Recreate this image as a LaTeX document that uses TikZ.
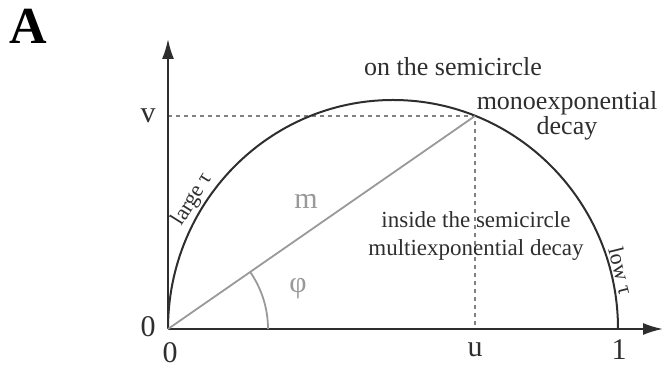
\documentclass[tikz,border=0pt]{standalone}
\usepackage{fontspec}
\setmainfont{Liberation Serif}
\usetikzlibrary{arrows.meta}
\definecolor{inkgray}{HTML}{2E2E2E}
\definecolor{vecgray}{HTML}{999999}
\definecolor{guidegray}{HTML}{808080}
\tikzset{
  axisline/.style={
    draw=inkgray,
    line width=1pt,
    -{Latex[length=10pt,width=6pt]}
  },
  curveline/.style={
    draw=inkgray,
    line width=1pt
  },
  vecline/.style={
    draw=vecgray,
    line width=0.9pt
  },
  guideline/.style={
    draw=guidegray,
    line width=0.7pt,
    dash pattern=on 2pt off 2pt
  },
  ticklabel/.style={
    text=inkgray,
    font=\fontsize{15}{18}\selectfont,
    inner sep=0pt
  },
  veclabel/.style={
    text=vecgray,
    font=\fontsize{15}{18}\selectfont,
    inner sep=0pt
  },
  arclabel/.style={
    text=inkgray,
    font=\fontsize{11}{13}\selectfont,
    inner sep=1pt,
    anchor=south
  },
  notelabel/.style={
    text=inkgray,
    align=center,
    inner sep=0pt
  }
}

\begin{document}
\begin{tikzpicture}[x=0.5pt,y=0.5pt]
    \useasboundingbox (0,0) rectangle (667,367);

    \coordinate (origin) at (168,38);
    \coordinate (centre) at (393,38);
    \coordinate (xend) at (663,38);
    \coordinate (yend) at (168,328);
    \coordinate (tip) at (475,251);
    \coordinate (vfoot) at (168,251);
    \coordinate (ufoot) at (475,38);

    % guides to the axes
    \draw[guideline] (vfoot) -- (tip) -- (ufoot);

    % axes
    \draw[axisline] (origin) -- (xend);
    \draw[axisline] (origin) -- (yend);

    % semicircle
    \draw[curveline] (origin) arc[start angle=180, end angle=0,
        x radius=225, y radius=229];

    % phasor and its angle
    \draw[vecline] (origin) -- (tip);
    \draw[vecline] ([shift={(0:100)}]origin) arc[start angle=0,
        end angle=34.8, radius=100];

    \node[arclabel, rotate=58] (large) at ([shift={(147.5:225 and 229)}]centre) {large τ};
    \node[arclabel, rotate=-76] (low) at ([shift={(14:225 and 229)}]centre) {low τ};

    \node[veclabel] (mlabel) at (306,166) {m};
    \node[veclabel] (philabel) at (298,78) {φ};

    \node[ticklabel] (vlabel) at (148,251) {v};
    \node[ticklabel] (zeroy) at (148,40) {0};
    \node[ticklabel] (zerox) at (170,14) {0};
    \node[ticklabel] (ulabel) at (475,17) {u};
    \node[ticklabel] (onelabel) at (619,17) {1};

    \node[notelabel, font=\fontsize{13}{13}\selectfont] (onsemi) at (453,300) {on the semicircle};
    \node[notelabel, font=\fontsize{13}{10.5}\selectfont] (mono) at (567,251) {monoexponential\\decay};
    \node[notelabel, font=\fontsize{11.5}{14}\selectfont] (multi) at (476,131)
        {inside the semicircle\\multiexponential decay};

    \node[font=\bfseries\fontsize{26}{26}\selectfont, inner sep=0pt] (panel) at (28,341) {A};
\end{tikzpicture}
\end{document}
